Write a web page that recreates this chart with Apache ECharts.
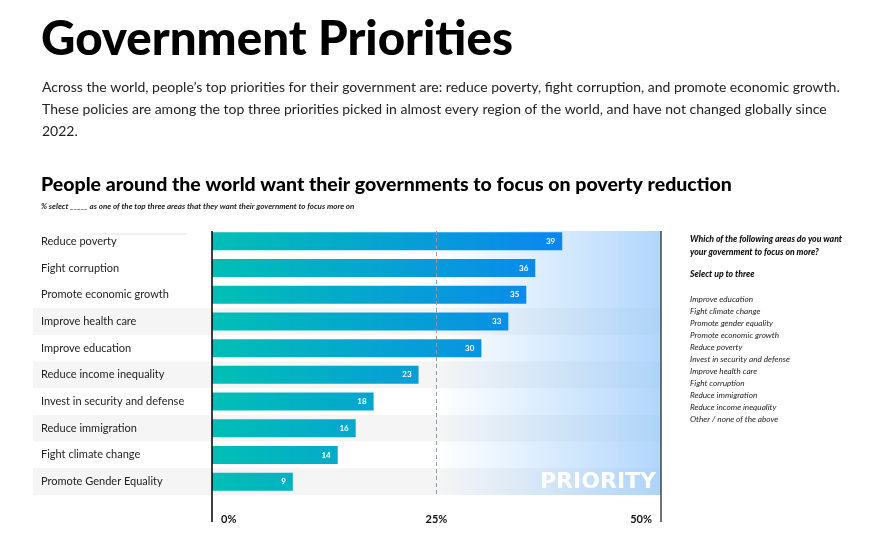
<!DOCTYPE html>
<html><head><meta charset="utf-8">
<script src="https://cdn.jsdelivr.net/npm/echarts@6/dist/echarts.min.js"></script>
<style>html,body{margin:0;padding:0;background:#fff}#c{width:893px;height:549px}</style>
</head><body><div id="c"></div>
<script>
const titleText = 'Government Priorities';
const bodyLines = [
  'Across the world, people\u2019s top priorities for their government are: reduce poverty, fight corruption, and promote economic growth.',
  'These policies are among the top three priorities picked in almost every region of the world, and have not changed globally since',
  '2022.'
];
const chartTitle = 'People around the world want their governments to focus on poverty reduction';
const chartNote = '% select _____ as one of the top three areas that they want their government to focus more on';
const categories = ['Reduce poverty','Fight corruption','Promote economic growth','Improve health care','Improve education','Reduce income inequality','Invest in security and defense','Reduce immigration','Fight climate change','Promote Gender Equality'];
const values = [39,36,35,33,30,23,18,16,14,9];
const axisTicks = [0,25,50];
const questionLines = ['Which of the following areas do you want','your government to focus on more?'];
const instruction = 'Select up to three';
const answerOptions = ['Improve education','Fight climate change','Promote gender equality','Promote economic growth','Reduce poverty','Invest in security and defense','Improve health care','Fight corruption','Reduce immigration','Reduce income inequality','Other / none of the above'];
const bandLabel = 'PRIORITY';

const FONT = 'Lato, "Open Sans", sans-serif';
const chart = echarts.init(document.getElementById('c'), null, {renderer:'canvas'});
const grid = {left:212, right:232, top:228, bottom:54};
const baseOption = {
  animation:false,
  grid: grid,
  xAxis: {type:'value', min:axisTicks[0], max:axisTicks[axisTicks.length-1], interval:axisTicks[1]-axisTicks[0], z:5,
    axisLine:{show:false}, axisTick:{show:false}, splitLine:{show:false},
    axisLabel:{formatter:'{value}%', fontFamily:FONT, fontWeight:'bold', fontSize:11, color:'#111', margin:19,
      alignMinLabel:'left', alignMaxLabel:'right', padding:[0,9,0,9]}},
  yAxis: {type:'category', data:categories, inverse:true, z:5,
    axisLine:{show:false}, axisTick:{show:false}, splitLine:{show:false},
    axisLabel:{align:'left', margin:171, fontFamily:FONT, fontSize:11, color:'#222'}},
  series: [{type:'bar', data:values, barWidth:18, z:6,
    label:{show:true, position:'insideRight', distance:7, color:'#fff', fontFamily:FONT, fontWeight:'bold', fontSize:8}}]
};
chart.setOption(baseOption);

const x0 = chart.convertToPixel({gridIndex:0},[0,0])[0];
const x25 = chart.convertToPixel({gridIndex:0},[axisTicks[1],0])[0];
const x50 = chart.convertToPixel({gridIndex:0},[axisTicks[2],0])[0];
const xMaxBar = chart.convertToPixel({gridIndex:0},[Math.max(...values),0])[0];
const rowY = categories.map((c,i)=>chart.convertToPixel({gridIndex:0},[0,i])[1]);
const rowH = rowY[1]-rowY[0];
const gTop = rowY[0]-rowH/2, gBot = rowY[rowY.length-1]+rowH/2;

const els = [];
els.push({type:'text', z:10, style:{text:titleText, x:41, y:40, verticalAlign:'middle', fontFamily:FONT, fontWeight:900, fontSize:47.5, fill:'#000'}});
bodyLines.forEach((t,i)=>els.push({type:'text', z:10, style:{text:t, x:42, y:87+i*22, verticalAlign:'middle', fontFamily:FONT, fontSize:14, fill:'#222'}}));
els.push({type:'text', z:10, style:{text:chartTitle, x:41, y:185, verticalAlign:'middle', fontFamily:FONT, fontWeight:900, fontSize:19.5, fill:'#000'}});
els.push({type:'text', z:10, style:{text:chartNote, x:41, y:206, verticalAlign:'middle', fontFamily:FONT, fontStyle:'italic', fontWeight:'bold', fontSize:8, fill:'#222'}});
questionLines.forEach((t,i)=>els.push({type:'text', z:10, style:{text:t, x:690, y:239+i*13, verticalAlign:'middle', fontFamily:FONT, fontStyle:'italic', fontWeight:900, fontSize:8.7, fill:'#111'}}));
els.push({type:'text', z:10, style:{text:instruction, x:690, y:274, verticalAlign:'middle', fontFamily:FONT, fontStyle:'italic', fontWeight:900, fontSize:8.7, fill:'#111'}});
answerOptions.forEach((t,i)=>els.push({type:'text', z:10, style:{text:t, x:690, y:299+i*12, verticalAlign:'middle', fontFamily:FONT, fontStyle:'italic', fontSize:8.2, fill:'#222'}}));
rowY.forEach((y,i)=>{ if(i%2===1 && i>1) els.push({type:'rect', z:1, shape:{x:33, y:y-rowH/2, width:x50-33, height:rowH}, style:{fill:'#f5f5f5'}}); });
els.push({type:'rect', z:1, shape:{x:92, y:233, width:95, height:2}, style:{fill:'#f0f0f0'}});
els.push({type:'rect', z:2, shape:{x:x25, y:gTop+3, width:x50-x25, height:gBot-gTop-3},
  style:{fill:new echarts.graphic.LinearGradient(0,0,1,0,[{offset:0,color:'rgba(150,200,250,0)'},{offset:1,color:'rgba(140,195,250,0.68)'}])}});
els.push({type:'line', z:12, shape:{x1:x25, y1:gTop+3, x2:x25, y2:gBot}, style:{stroke:'#999', lineWidth:1, lineDash:[4,3]}});
els.push({type:'line', z:12, shape:{x1:x0, y1:gTop+3, x2:x0, y2:522}, style:{stroke:'#000', lineWidth:1.5}});
els.push({type:'line', z:12, shape:{x1:x50, y1:gTop+3, x2:x50, y2:522}, style:{stroke:'#444', lineWidth:1.5}});
els.push({type:'text', z:12, style:{text:bandLabel, x:x50-5, y:rowY[rowY.length-1]+1, align:'right', verticalAlign:'middle', fontFamily:'"DejaVu Sans", sans-serif', fontWeight:'bold', fontSize:22, fill:'#fff'}});

chart.setOption({
  graphic:{elements:els},
  series:[{itemStyle:{color:new echarts.graphic.LinearGradient(x0,0,xMaxBar,0,[{offset:0,color:'#00bfb4'},{offset:1,color:'#0a86f0'}],true)}}]
});
</script></body></html>
